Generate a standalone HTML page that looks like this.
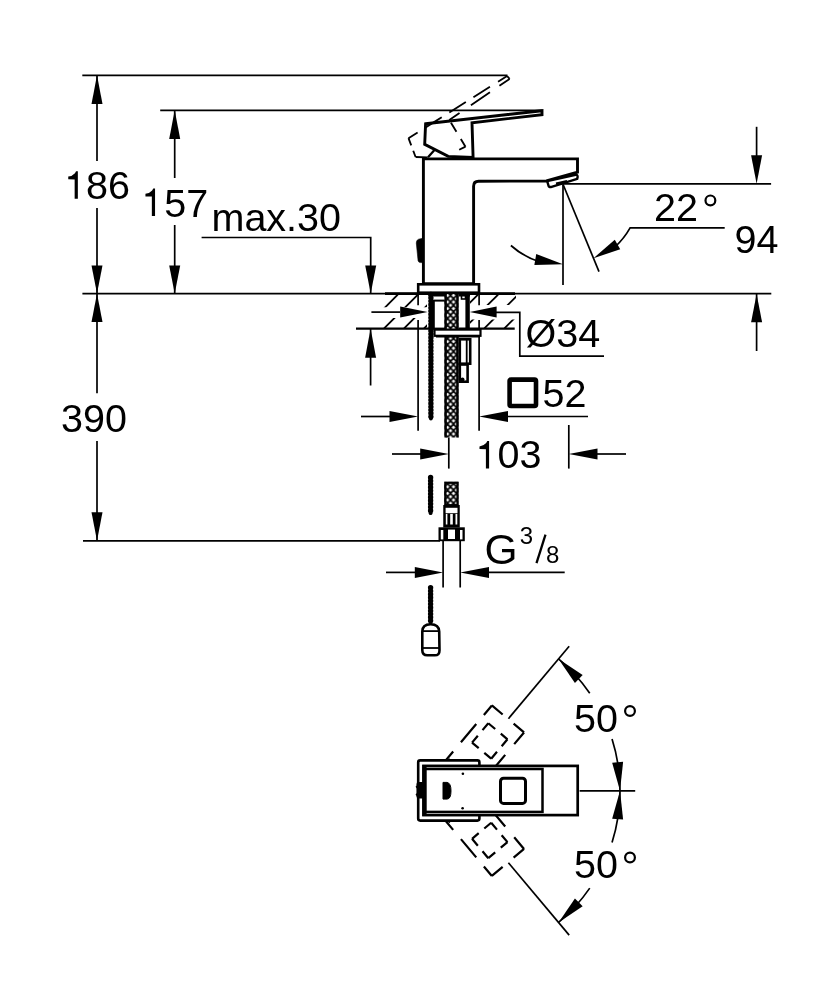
<!DOCTYPE html>
<html><head><meta charset="utf-8"><style>
html,body{margin:0;padding:0;background:#fff;}
svg{display:block;}
text{font-family:"Liberation Sans",sans-serif;fill:#000;}
</style></head><body>
<svg width="834" height="1000" viewBox="0 0 834 1000" stroke="#000" fill="none" style="will-change:transform">
<rect x="0" y="0" width="834" height="1000" fill="#fff" stroke="none"/>
<line x1="82.30" y1="75.30" x2="507.50" y2="75.30" stroke-width="1.7" />
<line x1="97.00" y1="75.30" x2="97.00" y2="161.00" stroke-width="1.7" />
<polygon points="97.00,75.30 102.50,104.00 91.50,104.00" fill="#000" stroke="none"/>
<line x1="97.00" y1="208.00" x2="97.00" y2="293.60" stroke-width="1.7" />
<polygon points="97.00,293.60 91.50,265.50 102.50,265.50" fill="#000" stroke="none"/>
<text x="64.00" y="198.50" font-size="39.5" text-anchor="start" stroke="#fff" stroke-width="0.0" >&#x2007;86</text>
<path d="M77.85,171.20 L77.85,198.70 L74.65,198.70 L74.65,179.40 L68.25,179.20 L68.25,176.50 Q72.45,176.10 74.95,173.20 L76.05,171.20 Z" fill="#000" stroke="none"/>
<line x1="160.20" y1="110.30" x2="542.00" y2="110.30" stroke-width="1.7" />
<line x1="174.70" y1="110.30" x2="174.70" y2="178.00" stroke-width="1.7" />
<polygon points="174.70,110.30 180.20,139.00 169.20,139.00" fill="#000" stroke="none"/>
<line x1="174.70" y1="225.00" x2="174.70" y2="293.60" stroke-width="1.7" />
<polygon points="174.70,293.60 169.20,265.50 180.20,265.50" fill="#000" stroke="none"/>
<text x="142.30" y="216.50" font-size="39.5" text-anchor="start" stroke="#fff" stroke-width="0.0" >&#x2007;57</text>
<path d="M155.05,188.40 L155.05,215.90 L151.85,215.90 L151.85,196.60 L145.45,196.40 L145.45,193.70 Q149.65,193.30 152.15,190.40 L153.25,188.40 Z" fill="#000" stroke="none"/>
<polyline points="201.60,237.50 370.70,237.50 370.70,293.60" fill="none" stroke-width="1.7" stroke-linejoin="miter" />
<polygon points="370.70,293.60 365.20,265.50 376.20,265.50" fill="#000" stroke="none"/>
<text x="211.50" y="230.50" font-size="39.5" text-anchor="start" stroke="#fff" stroke-width="0.0" >max.30</text>
<line x1="82.40" y1="293.60" x2="771.30" y2="293.60" stroke-width="1.7" />
<line x1="97.00" y1="293.60" x2="97.00" y2="393.30" stroke-width="1.7" />
<polygon points="97.00,293.60 102.50,322.00 91.50,322.00" fill="#000" stroke="none"/>
<line x1="97.00" y1="441.00" x2="97.00" y2="540.80" stroke-width="1.7" />
<polygon points="97.00,540.80 91.50,512.30 102.50,512.30" fill="#000" stroke="none"/>
<line x1="83.00" y1="540.80" x2="440.00" y2="540.80" stroke-width="1.7" />
<text x="61.00" y="431.60" font-size="39.5" text-anchor="start" stroke="#fff" stroke-width="0.0" >390</text>
<path d="M507.10,76.00 L509.60,78.90" fill="none" stroke-width="1.85" stroke-dasharray="20"/>
<path d="M507.10,76.00 L408.50,138.20" fill="none" stroke-width="1.85" stroke-dasharray="10.7 9.6 19.5 9 19.5 9 19.5 9 20 10"/>
<path d="M509.60,78.90 L449.30,120.00" fill="none" stroke-width="1.85" stroke-dasharray="12.3 11.5 23 13.8 20 10"/>
<path d="M408.50,138.20 L415.60,157.00" fill="none" stroke-width="1.85" stroke-dasharray="7.7 5.7 20"/>
<path d="M415.60,157.00 L442.90,157.70" fill="none" stroke-width="1.85" stroke-dasharray="12 100"/>
<path d="M465.50,146.70 L442.90,157.70" fill="none" stroke-width="1.85" stroke-dasharray="7 100"/>
<path d="M465.50,146.70 L449.30,120.00" fill="none" stroke-width="1.85" stroke-dasharray="9 8.5 10.5 3"/>
<polygon points="425.60,123.80 542.00,110.70 542.00,114.60 472.00,122.90 473.10,157.50 448.20,156.40 424.70,144.40" fill="none" stroke-width="2.9" stroke-linejoin="miter" />
<line x1="428.00" y1="157.30" x2="434.70" y2="149.70" stroke-width="2.2" />
<path d="M423.4,283.6 L423.4,158.9 L577.5,158.9 L577.5,172.2 L546.4,181.0 L478.6,181.2 Q473.6,181.2 473.6,186.2 L473.6,283.6 Z" fill="#fff" stroke-width="2.9" />
<path d="M547.2,181.2 L575.6,174.8 Q577.8,174.6 577.6,177 L577.2,178.8 L551.6,186.8 Q548.8,187.8 548.3,185 Z" fill="#fff" stroke-width="2.4" />
<line x1="556.00" y1="183.60" x2="567.00" y2="181.00" stroke-width="2.2" />
<path d="M423,238.2 L418.6,239.2 Q416.2,240.2 416.3,243 L418.1,260.8 Q418.6,262.6 420.5,262.6 L423,262.6 Z" fill="#000" stroke-width="0.6" />
<rect x="418.2" y="284.3" width="60.8" height="8.4" fill="#fff" stroke-width="2.6"/>
<line x1="385.00" y1="293.60" x2="515.00" y2="293.60" stroke-width="2.6" />
<line x1="356.00" y1="328.60" x2="514.70" y2="328.60" stroke-width="2.4" />
<clipPath id="hl"><rect x="383" y="295" width="44" height="12.2"/><rect x="383" y="318" width="44" height="10"/><rect x="470" y="295" width="46" height="10"/><rect x="470" y="319.5" width="46" height="8.5"/></clipPath>
<g clip-path="url(#hl)"><line x1="323.9" y1="328.4" x2="357.7" y2="294.6" stroke-width="1.8"/><line x1="343.9" y1="328.4" x2="377.8" y2="294.6" stroke-width="1.8"/><line x1="364.0" y1="328.4" x2="397.8" y2="294.6" stroke-width="1.8"/><line x1="384.1" y1="328.4" x2="417.9" y2="294.6" stroke-width="1.8"/><line x1="404.1" y1="328.4" x2="437.9" y2="294.6" stroke-width="1.8"/><line x1="424.1" y1="328.4" x2="457.9" y2="294.6" stroke-width="1.8"/><line x1="444.2" y1="328.4" x2="478.0" y2="294.6" stroke-width="1.8"/><line x1="464.2" y1="328.4" x2="498.1" y2="294.6" stroke-width="1.8"/><line x1="484.3" y1="328.4" x2="518.1" y2="294.6" stroke-width="1.8"/><line x1="504.4" y1="328.4" x2="538.1" y2="294.6" stroke-width="1.8"/><line x1="524.4" y1="328.4" x2="558.2" y2="294.6" stroke-width="1.8"/></g>
<line x1="418.10" y1="292.00" x2="418.10" y2="305.20" stroke-width="1.7" />
<line x1="418.10" y1="320.00" x2="418.10" y2="430.80" stroke-width="1.7" />
<line x1="479.10" y1="292.00" x2="479.10" y2="305.20" stroke-width="1.7" />
<line x1="479.10" y1="320.00" x2="479.10" y2="430.80" stroke-width="1.7" />
<line x1="430.9" y1="294.5" x2="430.9" y2="418.5" stroke-width="3.8" stroke-linecap="round"/>
<line x1="430.9" y1="294.5" x2="430.9" y2="418.5" stroke-width="5.4" stroke-linecap="round" stroke-dasharray="0 3.3"/>
<rect x="433.8" y="300.6" width="12.9" height="28" fill="#fff" stroke-width="2"/>
<line x1="428.50" y1="295.20" x2="470.00" y2="295.20" stroke-width="2.6" />
<rect x="465.4" y="295" width="4.4" height="34" fill="#000" stroke="none"/>
<rect x="461.5" y="295" width="4" height="4" fill="none" stroke-width="1.6"/>
<defs><pattern id="br" x="447.5" y="1.7" width="6" height="6.6" patternUnits="userSpaceOnUse"><rect width="6" height="6.6" fill="#000" stroke="none"/><path d="M3,-2.0 L4.85,0 L3,2.0 L1.15,0 Z M3,4.6 L4.85,6.6 L3,8.6 L1.15,6.6 Z M0,1.2999999999999998 L1.85,3.3 L0,5.3 L-1.85,3.3 Z M6,1.2999999999999998 L7.85,3.3 L6,5.3 L4.15,3.3 Z" fill="#fff" stroke="none"/></pattern></defs>
<rect x="444.5" y="294" width="14" height="143.5" fill="url(#br)" stroke="none"/>
<line x1="445.60" y1="294.00" x2="445.60" y2="437.50" stroke-width="2.4" />
<line x1="457.40" y1="294.00" x2="457.40" y2="437.50" stroke-width="2.4" />
<rect x="434.5" y="329.6" width="46" height="6.2" fill="#fff" stroke-width="2.2"/>
<line x1="436.00" y1="336.30" x2="480.00" y2="336.30" stroke-width="2.6" />
<rect x="459.8" y="339.3" width="10.4" height="24.4" fill="#fff" stroke-width="2.6"/>
<rect x="459.8" y="364.5" width="7.8" height="17.2" fill="#fff" stroke-width="2.6"/>
<circle cx="462.5" cy="379.5" r="2" fill="#000" stroke="none"/>
<line x1="466.70" y1="339.50" x2="466.70" y2="363.50" stroke-width="1.8" />
<line x1="371.40" y1="312.10" x2="400.00" y2="312.10" stroke-width="1.7" />
<polygon points="427.60,312.10 400.20,317.60 400.20,306.60" fill="#000" stroke="none"/>
<polygon points="469.70,312.10 496.60,306.60 496.60,317.60" fill="#000" stroke="none"/>
<polyline points="496.00,312.30 519.80,312.30 519.80,356.20 604.00,356.20" fill="none" stroke-width="1.7" stroke-linejoin="miter" />
<text x="525.50" y="346.70" font-size="39.5" text-anchor="start" stroke="#fff" stroke-width="0.0" >Ø34</text>
<line x1="370.60" y1="328.70" x2="370.60" y2="385.50" stroke-width="1.7" />
<polygon points="370.60,328.70 376.10,357.80 365.10,357.80" fill="#000" stroke="none"/>
<line x1="361.00" y1="416.50" x2="390.00" y2="416.50" stroke-width="1.7" />
<polygon points="418.10,416.50 389.50,422.00 389.50,411.00" fill="#000" stroke="none"/>
<polygon points="479.10,416.50 508.00,411.00 508.00,422.00" fill="#000" stroke="none"/>
<line x1="508.00" y1="416.50" x2="588.00" y2="416.50" stroke-width="1.7" />
<rect x="509.6" y="379.6" width="26.4" height="26.4" rx="1.5" fill="none" stroke-width="4.6"/>
<text x="542.50" y="406.70" font-size="39.5" text-anchor="start" stroke="#fff" stroke-width="0.0" >52</text>
<line x1="448.80" y1="437.50" x2="448.80" y2="468.60" stroke-width="1.7" />
<line x1="392.00" y1="454.00" x2="421.00" y2="454.00" stroke-width="1.7" />
<polygon points="448.80,454.00 420.20,459.50 420.20,448.50" fill="#000" stroke="none"/>
<line x1="568.80" y1="425.00" x2="568.80" y2="468.60" stroke-width="1.7" />
<polygon points="568.80,454.00 597.50,448.50 597.50,459.50" fill="#000" stroke="none"/>
<line x1="597.00" y1="454.00" x2="626.00" y2="454.00" stroke-width="1.7" />
<text x="475.60" y="468.40" font-size="39.5" text-anchor="start" stroke="#fff" stroke-width="0.0" >&#x2007;03</text>
<path d="M489.10,441.10 L489.10,468.60 L485.90,468.60 L485.90,449.30 L479.50,449.10 L479.50,446.40 Q483.70,446.00 486.20,443.10 L487.30,441.10 Z" fill="#000" stroke="none"/>
<line x1="430.6" y1="477.4" x2="430.6" y2="513.2" stroke-width="3.8" stroke-linecap="round"/>
<line x1="430.6" y1="477.4" x2="430.6" y2="513.2" stroke-width="5.4" stroke-linecap="round" stroke-dasharray="0 3.3"/>
<rect x="444.3" y="481.8" width="14.2" height="23.5" fill="url(#br)" stroke="none"/>
<rect x="445.3" y="482.8" width="12.2" height="22.4" fill="none" stroke-width="2.2"/>
<rect x="443.25" y="505.0" width="16.5" height="22.5" fill="#000" stroke="none"/>
<rect x="445.6" y="507.8" width="11.9" height="5.4" fill="#fff" stroke="none"/>
<rect x="445.8" y="513.9" width="1.6" height="10.6" fill="#fff" stroke="none"/>
<rect x="450.2" y="513.9" width="2.6" height="10.6" fill="#fff" stroke="none"/>
<rect x="455.5" y="513.9" width="1.8" height="10.6" fill="#fff" stroke="none"/>
<rect x="438.5" y="527.3" width="26.3" height="13.9" fill="#000" stroke="none"/>
<rect x="440.8" y="530.0" width="2.5" height="9.4" fill="#fff" stroke="none"/>
<rect x="460.0" y="530.0" width="2.5" height="9.4" fill="#fff" stroke="none"/>
<rect x="448.0" y="529.6" width="7.0" height="9.4" fill="#fff" stroke="none"/>
<line x1="443.10" y1="540.50" x2="443.10" y2="587.50" stroke-width="1.7" />
<line x1="460.20" y1="540.50" x2="460.20" y2="587.50" stroke-width="1.7" />
<line x1="386.00" y1="572.40" x2="415.00" y2="572.40" stroke-width="1.7" />
<polygon points="443.10,572.40 414.80,577.90 414.80,566.90" fill="#000" stroke="none"/>
<polygon points="460.20,572.40 489.00,566.90 489.00,577.90" fill="#000" stroke="none"/>
<line x1="488.00" y1="572.40" x2="564.70" y2="572.40" stroke-width="1.7" />
<text x="484.40" y="563.90" font-size="42.5" text-anchor="start" stroke="#fff" stroke-width="0.0" >G</text>
<text x="519.80" y="543.80" font-size="24" text-anchor="start" stroke="#fff" stroke-width="0.0" >3</text>
<line x1="536.50" y1="563.20" x2="545.50" y2="534.60" stroke-width="2.3" />
<text x="546.10" y="563.30" font-size="24" text-anchor="start" stroke="#fff" stroke-width="0.0" >8</text>
<line x1="430.6" y1="587.6" x2="430.6" y2="622.5" stroke-width="3.8" stroke-linecap="round"/>
<line x1="430.6" y1="587.6" x2="430.6" y2="622.5" stroke-width="5.4" stroke-linecap="round" stroke-dasharray="0 3.3"/>
<path d="M422.3,631.5 Q422.3,624.2 430.6,624.2 Q439.0,624.2 439.2,631.5 L439.5,650.2 Q439.6,655.3 434.8,655.3 L427.2,655.3 Q422.4,655.3 422.3,650.2 Z" fill="#fff" stroke-width="2.6" />
<line x1="423.00" y1="631.10" x2="439.00" y2="631.10" stroke-width="1.8" />
<line x1="423.00" y1="648.00" x2="439.00" y2="648.00" stroke-width="1.8" />
<line x1="563.00" y1="184.30" x2="563.00" y2="285.00" stroke-width="1.7" />
<line x1="563.00" y1="184.30" x2="599.00" y2="271.60" stroke-width="1.7" />
<line x1="563.80" y1="183.80" x2="771.10" y2="183.80" stroke-width="1.7" />
<path d="M510.9,245.5 A80,80 0 0 0 540,262" fill="none" stroke-width="1.7"/>
<polygon points="563.00,264.30 534.36,264.92 536.24,254.08" fill="#000" stroke="none"/>
<path d="M615,247 A80,80 0 0 0 630.1,227.9 L724.7,227.9" fill="none" stroke-width="1.7"/>
<polygon points="593.50,258.20 614.77,239.72 620.23,249.28" fill="#000" stroke="none"/>
<text x="654.00" y="221.00" font-size="39.5" text-anchor="start" stroke="#fff" stroke-width="0.0" >22</text>
<circle cx="710.40" cy="200.40" r="4.9" fill="none" stroke-width="2.2"/>
<line x1="756.60" y1="126.80" x2="756.60" y2="160.00" stroke-width="1.7" />
<polygon points="756.60,183.80 751.10,155.30 762.10,155.30" fill="#000" stroke="none"/>
<line x1="756.60" y1="294.00" x2="756.60" y2="351.00" stroke-width="1.7" />
<polygon points="756.60,294.00 762.10,322.20 751.10,322.20" fill="#000" stroke="none"/>
<text x="734.50" y="253.30" font-size="39.5" text-anchor="start" stroke="#fff" stroke-width="0.0" >94</text>
<path d="M491.86,705.45 L524.03,732.44" fill="none" stroke-width="2.2" stroke-dasharray="14.1 14.3 30"/>
<path d="M491.86,705.45 L416.33,795.46" fill="none" stroke-width="2.2" stroke-dasharray="12.4 11.9 23.8 12.1 24 12 24 12"/>
<path d="M524.03,732.44 L448.51,822.46" fill="none" stroke-width="2.2" stroke-dasharray="15.3 14 24 12 24 12 24 12"/>
<path d="M472.04,742.60 L488.30,723.22" fill="none" stroke-width="2.2" stroke-dasharray="9 7.3 12"/>
<path d="M488.30,723.22 L507.46,739.29" fill="none" stroke-width="2.2" stroke-dasharray="9 7.3 12"/>
<path d="M507.46,739.29 L491.19,758.67" fill="none" stroke-width="2.2" stroke-dasharray="9 7.3 12"/>
<path d="M491.19,758.67 L472.04,742.60" fill="none" stroke-width="2.2" stroke-dasharray="9 7.3 12"/>
<line x1="508.42" y1="718.69" x2="569.17" y2="646.30" stroke-width="1.7" />
<path d="M491.86,875.95 L524.03,848.96" fill="none" stroke-width="2.2" stroke-dasharray="14.1 14.3 30"/>
<path d="M491.86,875.95 L416.33,785.94" fill="none" stroke-width="2.2" stroke-dasharray="12.4 11.9 23.8 12.1 24 12 24 12"/>
<path d="M524.03,848.96 L448.51,758.94" fill="none" stroke-width="2.2" stroke-dasharray="15.3 14 24 12 24 12 24 12"/>
<path d="M472.04,838.80 L488.30,858.18" fill="none" stroke-width="2.2" stroke-dasharray="9 7.3 12"/>
<path d="M488.30,858.18 L507.46,842.11" fill="none" stroke-width="2.2" stroke-dasharray="9 7.3 12"/>
<path d="M507.46,842.11 L491.19,822.73" fill="none" stroke-width="2.2" stroke-dasharray="9 7.3 12"/>
<path d="M491.19,822.73 L472.04,838.80" fill="none" stroke-width="2.2" stroke-dasharray="9 7.3 12"/>
<line x1="508.42" y1="862.71" x2="569.17" y2="935.10" stroke-width="1.7" />
<rect x="418.2" y="760.4" width="61.2" height="60.2" rx="2" fill="#fff" stroke-width="2.6"/>
<rect x="423.5" y="765.9" width="154.2" height="49.2" fill="#fff" stroke-width="2.7"/>
<line x1="424.50" y1="765.00" x2="424.50" y2="816.00" stroke-width="4.2" />
<rect x="425" y="769.0" width="117.5" height="42.9" fill="none" stroke-width="2.5"/>
<rect x="416.5" y="782" width="7.5" height="16.6" rx="2" fill="#000" stroke="none"/>
<path d="M443,782.4 L447,782.4 Q451,783 451,790.8 Q451,799 447,799.1 L443,799.1 Z" fill="#000" stroke-width="1" />
<circle cx="462.9" cy="773.7" r="1.3" fill="#000" stroke="none"/>
<circle cx="462.6" cy="808.3" r="1.3" fill="#000" stroke="none"/>
<rect x="500.5" y="778.3" width="25.0" height="25.1" rx="3" fill="#fff" stroke-width="3.0"/>
<line x1="579.60" y1="790.90" x2="635.20" y2="790.90" stroke-width="1.7" />
<path d="M558.56,658.94 A172,172 0 0 1 589.75,693.28" fill="none" stroke-width="1.7"/>
<path d="M612.04,738.98 A172,172 0 0 1 620.00,790.70" fill="none" stroke-width="1.7"/>
<polygon points="558.56,658.94 582.66,675.09 574.92,682.90" fill="#000" stroke="none"/>
<polygon points="620.00,790.70 612.16,762.77 623.12,761.86" fill="#000" stroke="none"/>
<path d="M558.56,922.46 A172,172 0 0 0 589.75,888.12" fill="none" stroke-width="1.7"/>
<path d="M612.04,842.42 A172,172 0 0 0 620.00,790.70" fill="none" stroke-width="1.7"/>
<polygon points="558.56,922.46 574.92,898.50 582.66,906.31" fill="#000" stroke="none"/>
<polygon points="620.00,790.70 623.12,819.54 612.16,818.63" fill="#000" stroke="none"/>
<text x="574.00" y="732.30" font-size="39.5" text-anchor="start" stroke="#fff" stroke-width="0.0" >50</text>
<circle cx="630.00" cy="711.00" r="4.9" fill="none" stroke-width="2.2"/>
<text x="574.00" y="877.80" font-size="39.5" text-anchor="start" stroke="#fff" stroke-width="0.0" >50</text>
<circle cx="630.00" cy="857.50" r="4.9" fill="none" stroke-width="2.2"/>
</svg></body></html>
